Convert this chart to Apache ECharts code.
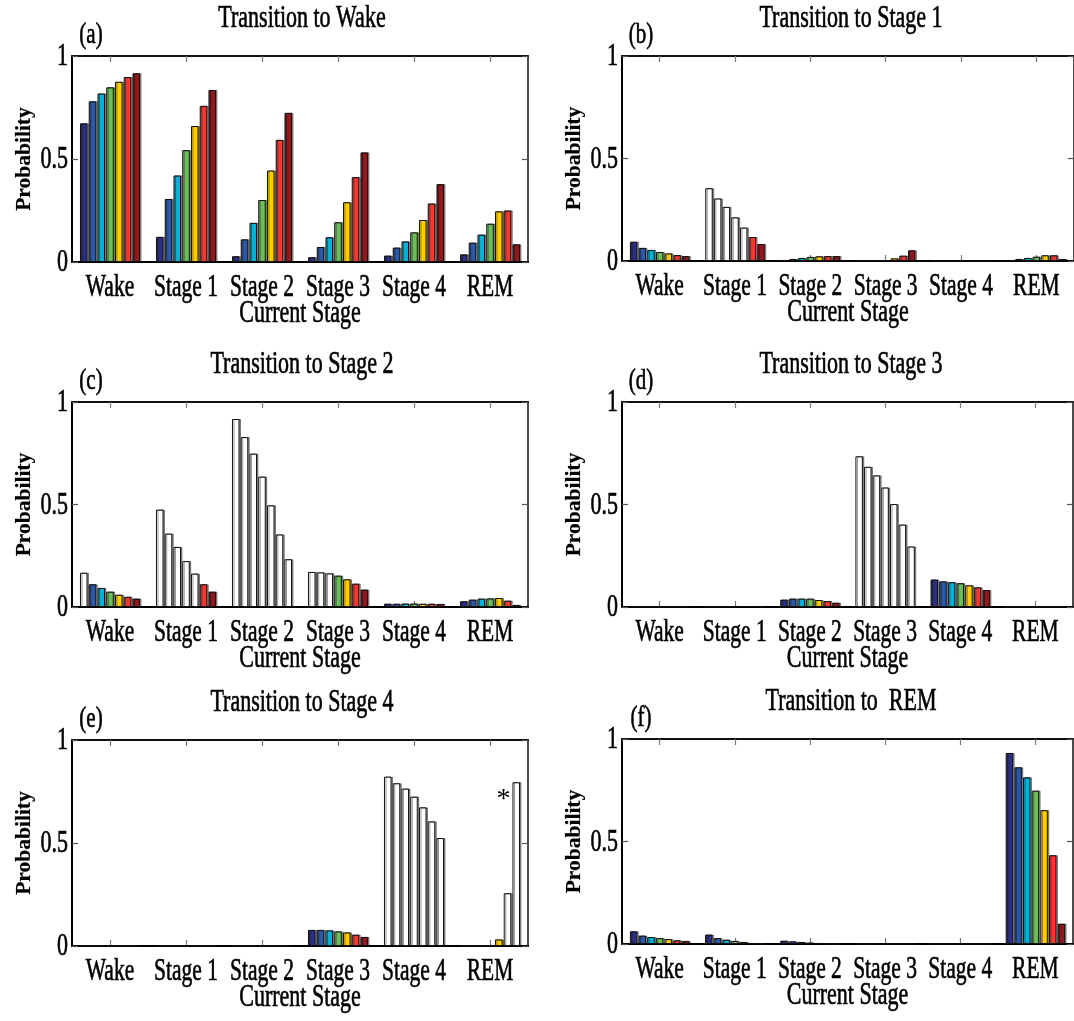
<!DOCTYPE html>
<html><head><meta charset="utf-8">
<script src="https://cdn.jsdelivr.net/npm/echarts@6/dist/echarts.min.js"></script>
<style>html,body{margin:0;padding:0;background:#fff}#c{width:1074px;height:1021px}</style>
</head><body><div id="c"></div>
<script>
// ---------- data ----------
const categories = ['Wake', 'Stage 1', 'Stage 2', 'Stage 3', 'Stage 4', 'REM'];
const yTicks = [0, 0.5, 1];
const yTickLabels = ['0', '0.5', '1'];
const panelTitles = ['Transition to Wake', 'Transition to Stage 1', 'Transition to Stage 2',
                     'Transition to Stage 3', 'Transition to Stage 4', 'Transition to  REM'];
const panelLetters = ['(a)', '(b)', '(c)', '(d)', '(e)', '(f)'];
const xAxisTitle = 'Current Stage';
const yAxisTitle = 'Probability';

// rows = current stage (categories), columns = the 7 bars of each group
const toWake = [
  [0.673, 0.780, 0.818, 0.848, 0.875, 0.898, 0.916],
  [0.122, 0.306, 0.420, 0.543, 0.660, 0.758, 0.835],
  [0.028, 0.110, 0.190, 0.301, 0.444, 0.593, 0.724],
  [0.023, 0.073, 0.120, 0.193, 0.290, 0.412, 0.532],
  [0.031, 0.070, 0.100, 0.144, 0.204, 0.284, 0.378],
  [0.037, 0.094, 0.133, 0.186, 0.246, 0.250, 0.086]
];
const toStage1 = [
  [0.094, 0.064, 0.054, 0.044, 0.037, 0.029, 0.024],
  [0.355, 0.305, 0.264, 0.213, 0.163, 0.117, 0.083],
  [0.005, 0.010, 0.015, 0.020, 0.023, 0.024, 0.024],
  [0.002, 0.002, 0.003, 0.004, 0.013, 0.026, 0.052],
  [0.002, 0.002, 0.002, 0.002, 0.002, 0.002, 0.002],
  [0.005, 0.010, 0.015, 0.021, 0.028, 0.028, 0.010]
];
const toStage2 = [
  [0.167, 0.111, 0.093, 0.075, 0.060, 0.050, 0.041],
  [0.475, 0.358, 0.293, 0.224, 0.163, 0.111, 0.075],
  [0.917, 0.829, 0.748, 0.636, 0.496, 0.354, 0.233],
  [0.171, 0.169, 0.164, 0.153, 0.135, 0.114, 0.085],
  [0.016, 0.016, 0.017, 0.017, 0.016, 0.016, 0.015],
  [0.028, 0.036, 0.041, 0.042, 0.044, 0.031, 0.010]
];
const toStage3 = [
  [0.002, 0.002, 0.002, 0.001, 0.001, 0.001, 0.001],
  [0.002, 0.003, 0.003, 0.004, 0.004, 0.004, 0.003],
  [0.036, 0.041, 0.041, 0.041, 0.034, 0.029, 0.021],
  [0.735, 0.684, 0.642, 0.583, 0.502, 0.402, 0.295],
  [0.134, 0.125, 0.121, 0.116, 0.106, 0.096, 0.083],
  [0.000, 0.000, 0.000, 0.000, 0.000, 0.000, 0.000]
];
const toStage4 = [
  [0.000, 0.000, 0.000, 0.000, 0.000, 0.000, 0.000],
  [0.000, 0.000, 0.000, 0.000, 0.000, 0.000, 0.000],
  [0.000, 0.000, 0.000, 0.001, 0.000, 0.000, 0.000],
  [0.078, 0.078, 0.076, 0.071, 0.066, 0.055, 0.044],
  [0.822, 0.790, 0.764, 0.725, 0.673, 0.605, 0.524],
  [0.001, 0.001, 0.002, 0.002, 0.032, 0.256, 0.795]
];
const toREM = [
  [0.062, 0.041, 0.034, 0.029, 0.024, 0.018, 0.015],
  [0.046, 0.029, 0.021, 0.015, 0.010, 0.005, 0.003],
  [0.016, 0.013, 0.010, 0.007, 0.005, 0.002, 0.001],
  [0.001, 0.001, 0.001, 0.001, 0.001, 0.001, 0.001],
  [0.001, 0.001, 0.001, 0.001, 0.001, 0.001, 0.001],
  [0.932, 0.862, 0.813, 0.748, 0.653, 0.433, 0.099]
];
// 'o' = open (unfilled) bar, '.' = filled bar
const openWake   = ['.......', '.......', '.......', '.......', '.......', '.......'];
const openStage1 = ['.......', 'ooooo..', '.......', 'ooo....', 'ooooooo', '.......'];
const openStage2 = ['o......', 'ooooo..', 'ooooooo', 'ooo....', '.......', '.......'];
const openStage3 = ['ooooooo', 'ooooooo', '.......', 'ooooooo', '.......', '.......'];
const openStage4 = ['ooooooo', 'ooooooo', 'ooooooo', '.......', 'ooooooo', 'oooo.oo'];
const openREM    = ['.......', '.......', '.......', 'ooooooo', 'ooooooo', '.......'];
// annotated bar: [panel, category, bar, text]
const starMark = [4, 5, 5, '*'];

const panelValues = [toWake, toStage1, toStage2, toStage3, toStage4, toREM];
const panelOpen = [openWake, openStage1, openStage2, openStage3, openStage4, openREM];

// ---------- style / layout ----------
const barColors = ['#2A2F7F', '#2C58A8', '#00B2D6', '#6CBE5A', '#FFCC00', '#EE3A32', '#8C1A1F'];
const gridBoxes = [
  { left: 72, top: 56, width: 456, height: 206 },
  { left: 622, top: 56, width: 458, height: 205 },
  { left: 72, top: 402, width: 456, height: 205 },
  { left: 622, top: 402, width: 451, height: 205 },
  { left: 72, top: 740, width: 456, height: 206 },
  { left: 622, top: 739, width: 451, height: 205 }
];
const FONT = '"Liberation Serif", "Times New Roman", serif';
const SY = 1.45;

const chart = echarts.init(document.getElementById('c'), null, { renderer: 'canvas' });

const grid = [], xAxis = [], yAxis = [], series = [];
gridBoxes.forEach((g, i) => {
  grid.push({ left: g.left, top: g.top, width: g.width, height: g.height, containLabel: false });
  const xCommon = {
    type: 'category', data: categories, gridIndex: i, boundaryGap: true,
    axisLabel: { show: false },
    axisTick: { show: true, inside: true, alignWithLabel: true, length: 6, lineStyle: { color: '#777', width: 1.2 } },
    splitLine: { show: false }
  };
  xAxis.push(Object.assign({}, xCommon, { position: 'bottom', axisLine: { show: true, onZero: false, lineStyle: { color: '#000', width: 2 } } }));
  xAxis.push(Object.assign({}, xCommon, { position: 'top', axisLine: { show: true, onZero: false, lineStyle: { color: '#111', width: 2 } } }));
  const yCommon = {
    type: 'value', min: 0, max: 1, interval: 0.5, gridIndex: i,
    axisLabel: { show: false }, splitLine: { show: false },
    axisTick: { show: true, inside: true, length: 6, lineStyle: { color: '#555', width: 1.2 } }
  };
  yAxis.push(Object.assign({}, yCommon, { position: 'left', axisLine: { show: true, lineStyle: { color: '#000', width: 2 } } }));
  yAxis.push(Object.assign({}, yCommon, { position: 'right', axisLine: { show: true, lineStyle: { color: '#111', width: 1.5 } } }));

  const vals = panelValues[i], open = panelOpen[i];
  for (let s = 0; s < 7; s++) {
    series.push({
      type: 'bar', xAxisIndex: 2 * i, yAxisIndex: 2 * i,
      barGap: '16%', barCategoryGap: '21%',
      silent: true, animation: false,
      itemStyle: {
        color: barColors[s], borderColor: '#111', borderWidth: 1,
        shadowColor: 'rgba(0,0,0,0.4)', shadowOffsetX: 1.5, shadowOffsetY: 0, shadowBlur: 0
      },
      data: categories.map((c, ci) => {
        const item = { value: vals[ci][s] };
        if (open[ci][s] === 'o') item.itemStyle = { color: '#fff' };
        if (starMark[0] === i && starMark[1] === ci && starMark[2] === s) {
          item.label = { show: true, position: 'top', distance: 80, offset: [-4, 0], formatter: starMark[3],
                         fontSize: 28, fontFamily: FONT, color: '#000' };
        }
        return item;
      })
    });
  }
});

chart.setOption({ backgroundColor: '#fff', animation: false, grid, xAxis, yAxis, series });

function txt(str, x, y, size, extra) {
  extra = extra || {};
  return {
    type: 'text', x: x, y: y, silent: true,
    scaleY: extra.scaleY !== undefined ? extra.scaleY : SY,
    rotation: extra.rotation || 0,
    style: {
      text: str, x: 0, y: 0, fill: '#000', stroke: '#000', lineWidth: extra.bold ? 0.2 : 0.45,
      font: (extra.bold ? 'bold ' : '') + size + 'px ' + FONT,
      align: extra.align || 'center', verticalAlign: 'middle',
      textAlign: extra.align || 'center', textVerticalAlign: 'middle'
    }
  };
}

const graphics = [];
gridBoxes.forEach((g, i) => {
  const bottom = g.top + g.height;
  categories.forEach(c => {
    const px = chart.convertToPixel({ xAxisIndex: 2 * i }, c);
    graphics.push(txt(c, px, bottom + 26, 21.5));
  });
  const mid = (chart.convertToPixel({ xAxisIndex: 2 * i }, categories[2]) + chart.convertToPixel({ xAxisIndex: 2 * i }, categories[3])) / 2;
  graphics.push(txt(xAxisTitle, mid, bottom + 52, 22));
  yTicks.forEach((v, k) => {
    const py = chart.convertToPixel({ yAxisIndex: 2 * i }, v);
    graphics.push(txt(yTickLabels[k], g.left - 4, py + 1, 22, { align: 'right' }));
  });
  graphics.push(txt(yAxisTitle, g.left - 48, g.top + g.height / 2, 21.5, { bold: true, rotation: Math.PI / 2, scaleY: 1 }));
  graphics.push(txt(panelTitles[i], (i % 2 === 0 ? 302 : 851), g.top - 37, 22));
  graphics.push(txt(panelLetters[i], g.left + 19, g.top - 21, 21));
});
chart.setOption({ graphic: graphics });
</script></body></html>
